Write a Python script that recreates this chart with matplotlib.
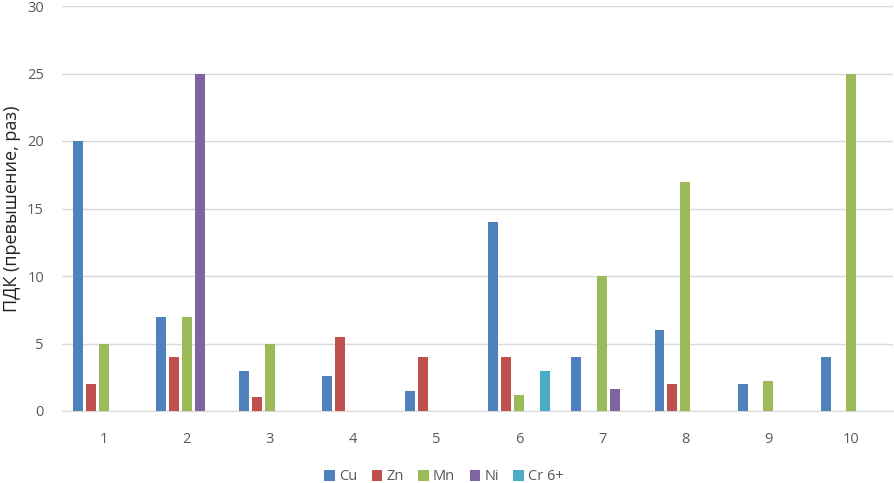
import numpy as np
import matplotlib
matplotlib.use("Agg")
import matplotlib.pyplot as plt

# --- данные ---
categories = ["1", "2", "3", "4", "5", "6", "7", "8", "9", "10"]
series_names = ["Cu", "Zn", "Mn", "Ni", "Cr 6+"]
cu = [20, 7, 3, 2.6, 1.5, 14, 4, 6, 2, 4]
zn = [2, 4, 1.05, 5.5, 4, 4, 0, 2, 0, 0]
mn = [5, 7, 5, 0, 0, 1.2, 10, 17, 2.2, 25]
ni = [0, 25, 0, 0, 0, 0, 1.6, 0, 0, 0]
cr = [0, 0, 0, 0, 0, 3, 0, 0, 0, 0]
colors = ["#4F81BD", "#C0504D", "#9BBB59", "#8064A2", "#4BACC6"]

plt.rcParams['font.family'] = ['Open Sans', 'DejaVu Sans']

fig = plt.figure(figsize=(8.94, 4.83), dpi=100)
ax = fig.add_axes([62 / 894, 1 - 411 / 483, 831 / 894, 405 / 483])

x = np.arange(len(categories))
pitch = 0.155
width = 0.12
for i, (name, vals) in enumerate(zip(series_names, [cu, zn, mn, ni, cr])):
    ax.bar(x + (i - 2) * pitch, vals, width=width, color=colors[i], label=name, zorder=3)

ax.set_xlim(-0.5, len(categories) - 0.5)
ax.set_ylim(0, 30)
ax.set_yticks(range(0, 31, 5))
ax.set_xticks(x)
ax.set_xticklabels(categories)
ax.grid(axis='y', color='#D9D9D9', linewidth=1, zorder=0)
ax.tick_params(axis='both', length=0, colors='#595959', labelsize=10.5)
ax.tick_params(axis='x', pad=15)
ax.tick_params(axis='y', pad=13)
for s in ['top', 'right', 'left']:
    ax.spines[s].set_visible(False)
ax.spines['bottom'].set_color('#D9D9D9')
ax.set_ylabel("ПДК (превышение, раз)", fontsize=13, color='#222222')
ax.yaxis.set_label_coords(-41 / 831, 0.5)

ax.legend(loc='center', bbox_to_anchor=(444 / 894, 6 / 483), bbox_transform=fig.transFigure,
          ncol=5, frameon=False, fontsize=10.5, handlelength=0.7, handleheight=0.7,
          handletextpad=0.3, columnspacing=1.0, labelcolor='#595959')

fig.savefig("out.png", dpi=100)
